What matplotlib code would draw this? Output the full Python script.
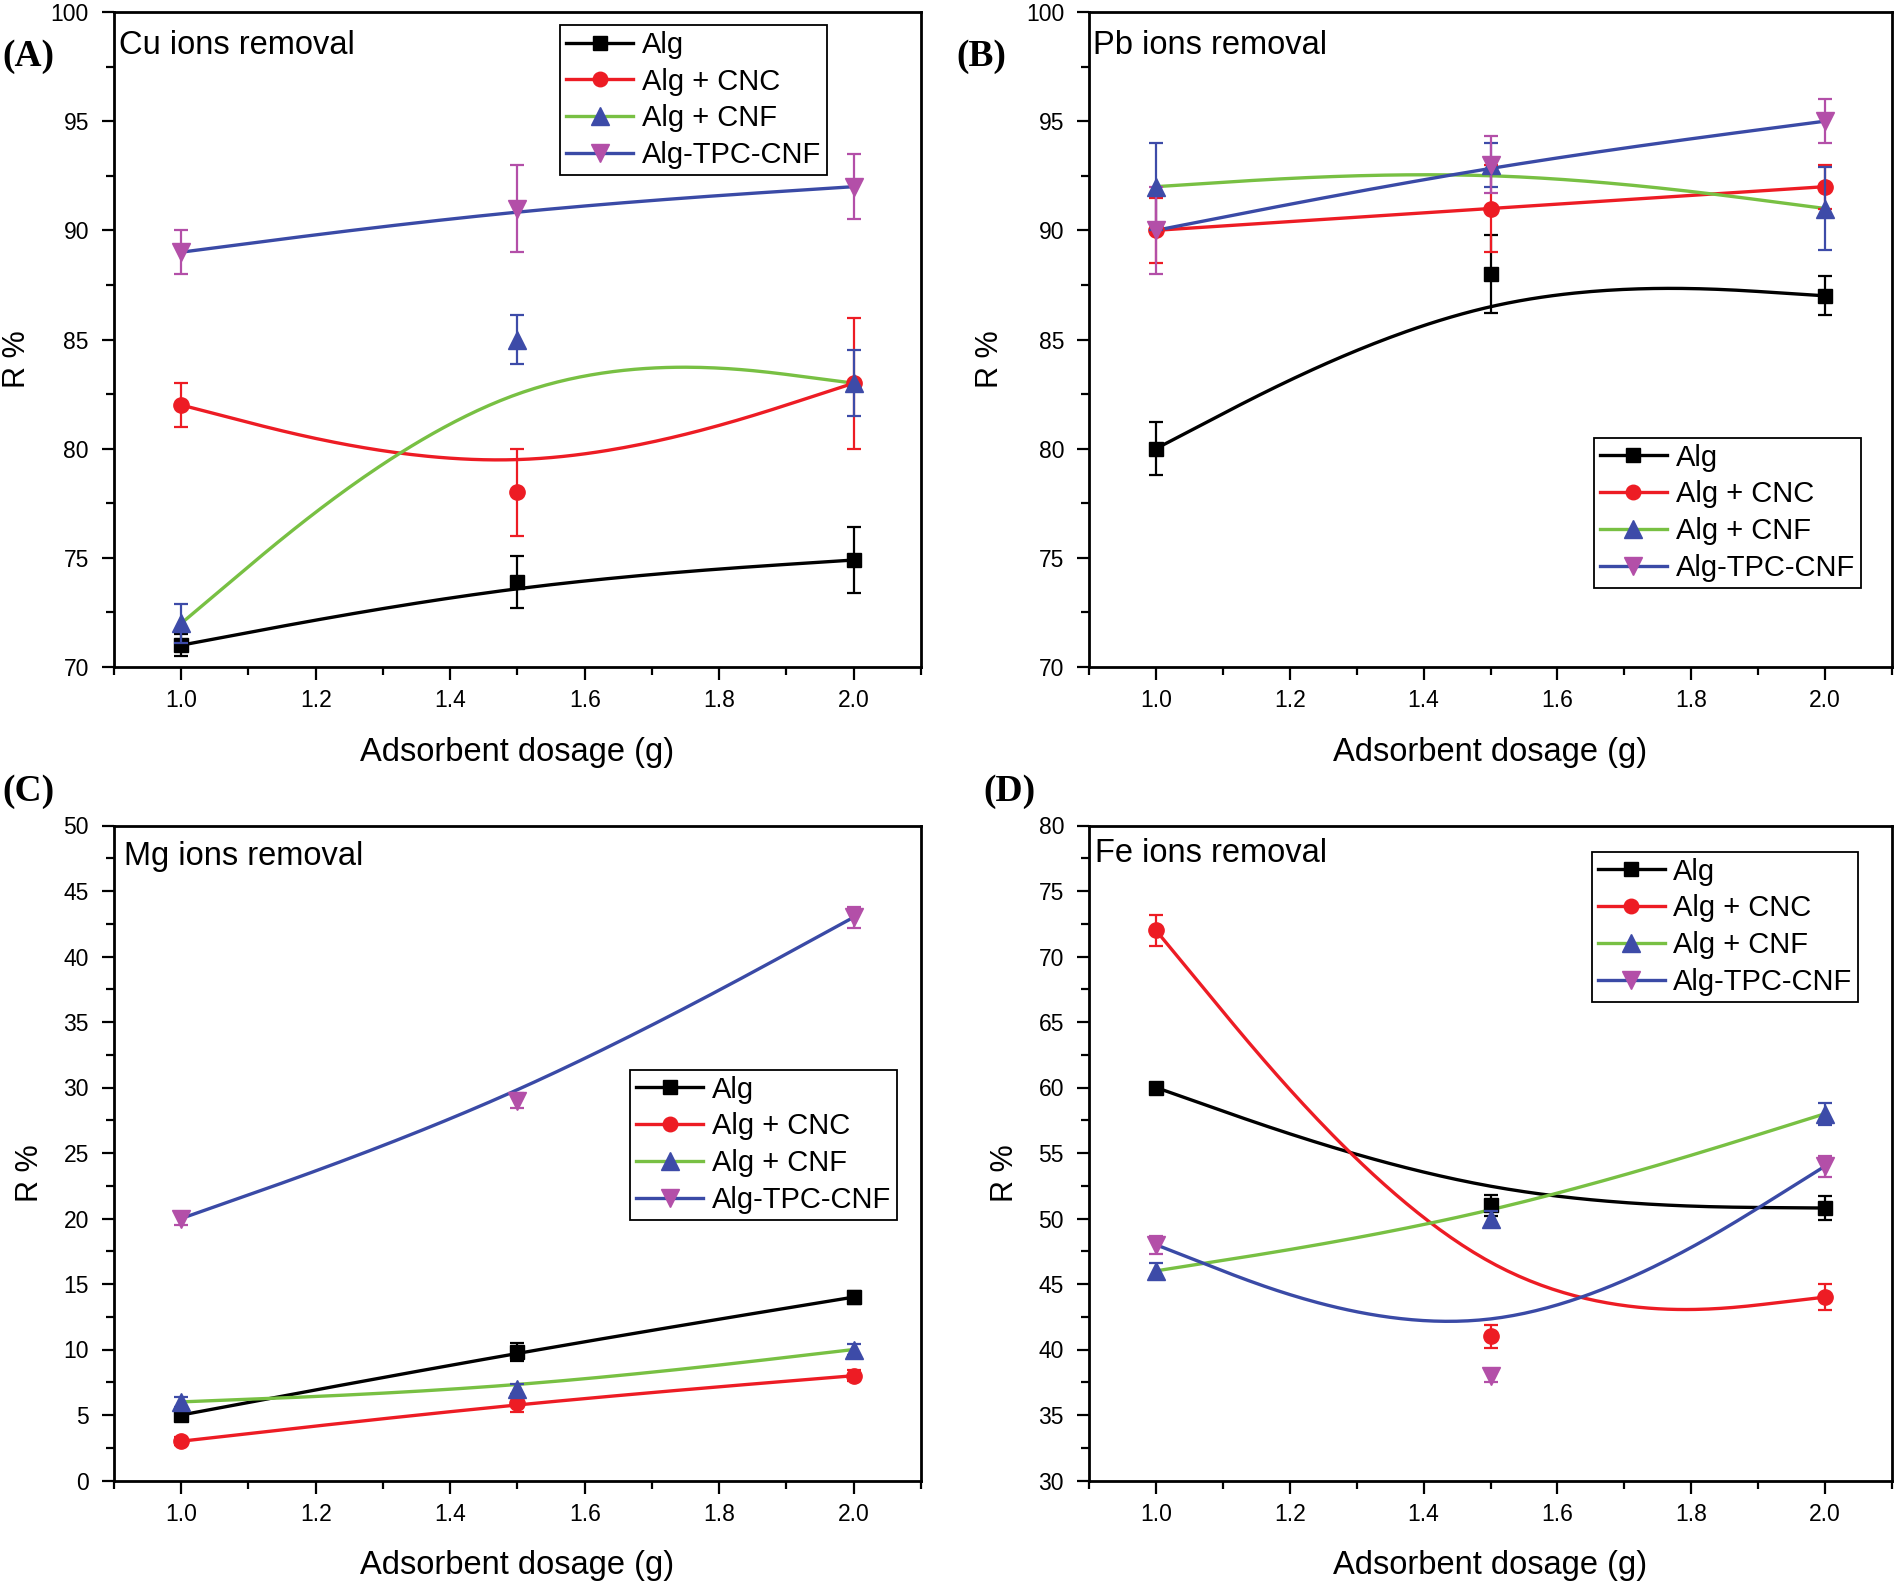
import numpy as np
import matplotlib
matplotlib.use("Agg")
import matplotlib.pyplot as plt
from matplotlib.ticker import MultipleLocator, FormatStrFormatter
from matplotlib.lines import Line2D

plt.rcParams['font.family'] = ['Liberation Sans', 'DejaVu Sans']

# ---------------- data ----------------
x_dose = [1.0, 1.5, 2.0]
series_names = ['Alg', 'Alg + CNC', 'Alg + CNF', 'Alg-TPC-CNF']

cu_alg = [71.0, 73.9, 74.9]
cu_alg_err = [0.5, 1.2, 1.5]
cu_cnc = [82.0, 78.0, 83.0]
cu_cnc_err = [1.0, 2.0, 3.0]
cu_cnf = [72.0, 85.0, 83.0]
cu_cnf_err = [0.9, 1.1, 1.5]
cu_tpc = [89.0, 91.0, 92.0]
cu_tpc_err = [1.0, 2.0, 1.5]

pb_alg = [80.0, 88.0, 87.0]
pb_alg_err = [1.2, 1.8, 0.9]
pb_cnc = [90.0, 91.0, 92.0]
pb_cnc_err = [1.5, 2.0, 1.0]
pb_cnf = [92.0, 93.0, 91.0]
pb_cnf_err = [2.0, 1.0, 1.9]
pb_tpc = [90.0, 93.0, 95.0]
pb_tpc_err = [2.0, 1.3, 1.0]

mg_alg = [5.0, 9.8, 14.0]
mg_alg_err = [0.3, 0.7, 0.5]
mg_cnc = [3.0, 5.9, 8.0]
mg_cnc_err = [0.3, 0.7, 0.4]
mg_cnf = [6.0, 7.0, 10.0]
mg_cnf_err = [0.4, 0.4, 0.4]
mg_tpc = [20.0, 29.0, 43.0]
mg_tpc_err = [0.5, 0.6, 0.8]

fe_alg = [60.0, 51.0, 50.8]
fe_alg_err = [0.3, 0.8, 0.9]
fe_cnc = [72.0, 41.0, 44.0]
fe_cnc_err = [1.2, 0.9, 1.0]
fe_cnf = [46.0, 50.0, 58.0]
fe_cnf_err = [0.6, 0.6, 0.85]
fe_tpc = [48.0, 38.0, 54.0]
fe_tpc_err = [0.7, 0.5, 0.8]

panel_titles = ['Cu ions removal', 'Pb ions removal', 'Mg ions removal', 'Fe ions removal']
panel_letters = ['(A)', '(B)', '(C)', '(D)']
x_label = 'Adsorbent dosage (g)'
y_label = 'R %'

# ---------------- style ----------------
line_colors = ['#000000', '#ed1c24', '#78c043', '#3a4aa6']
marker_colors = ['#000000', '#ed1c24', '#3d4ba8', '#b34fa8']
markers = ['s', 'o', '^', 'v']
msizes = [10, 11, 13.5, 13.5]


def bspline(xs, ys, n=60):
    """Uniform cubic B-spline with tripled end control points."""
    cx = [xs[0]] * 2 + list(xs) + [xs[-1]] * 2
    cy = [ys[0]] * 2 + list(ys) + [ys[-1]] * 2
    t = np.linspace(0, 1, n)
    b0 = (1 - t) ** 3 / 6
    b1 = (3 * t ** 3 - 6 * t ** 2 + 4) / 6
    b2 = (-3 * t ** 3 + 3 * t ** 2 + 3 * t + 1) / 6
    b3 = t ** 3 / 6
    ox, oy = [], []
    for i in range(len(cx) - 3):
        ox.append(b0 * cx[i] + b1 * cx[i + 1] + b2 * cx[i + 2] + b3 * cx[i + 3])
        oy.append(b0 * cy[i] + b1 * cy[i + 1] + b2 * cy[i + 2] + b3 * cy[i + 3])
    return np.concatenate(ox), np.concatenate(oy)


fig = plt.figure(figsize=(18.98, 15.83), dpi=100)

W, H = 1898.0, 1583.0
rects = [
    [114 / W, 1 - 667 / H, 807 / W, 655 / H],
    [1089 / W, 1 - 667 / H, 803 / W, 655 / H],
    [114 / W, 1 - 1480.5 / H, 807 / W, 655 / H],
    [1089 / W, 1 - 1480.5 / H, 803 / W, 655 / H],
]
ylims = [(70, 100), (70, 100), (0, 50), (30, 80)]
panel_data = [
    [(cu_alg, cu_alg_err), (cu_cnc, cu_cnc_err), (cu_cnf, cu_cnf_err), (cu_tpc, cu_tpc_err)],
    [(pb_alg, pb_alg_err), (pb_cnc, pb_cnc_err), (pb_cnf, pb_cnf_err), (pb_tpc, pb_tpc_err)],
    [(mg_alg, mg_alg_err), (mg_cnc, mg_cnc_err), (mg_cnf, mg_cnf_err), (mg_tpc, mg_tpc_err)],
    [(fe_alg, fe_alg_err), (fe_cnc, fe_cnc_err), (fe_cnf, fe_cnf_err), (fe_tpc, fe_tpc_err)],
]
legend_anchor = [(0.553, 0.980), (0.629, 0.350), (0.640, 0.627), (0.626, 0.960)]
title_pos = [(0.006, 0.949), (0.005, 0.949), (0.013, 0.952), (0.007, 0.957)]
ylabel_x = [-0.120, -0.123, -0.104, -0.105]
letter_pos = [(0.001, 0.9646), (0.5037, 0.9646), (0.001, 0.5000), (0.518, 0.5000)]

for k in range(4):
    ax = fig.add_axes(rects[k])
    for j in range(4):
        vals, errs = panel_data[k][j]
        cxs, cys = bspline(x_dose, vals)
        ax.plot(cxs, cys, color=line_colors[j], lw=2.4, zorder=2 + j * 0.1, solid_capstyle='butt')
        ax.errorbar(x_dose, vals, yerr=errs, fmt=markers[j], ms=msizes[j],
                    color=marker_colors[j], mfc=marker_colors[j], mec=marker_colors[j],
                    ecolor=marker_colors[j], elinewidth=1.6, capsize=5, capthick=1.6,
                    zorder=3 + j * 0.1)
    ax.set_xlim(0.9, 2.1)
    ax.set_ylim(*ylims[k])
    ax.xaxis.set_major_locator(MultipleLocator(0.2))
    ax.xaxis.set_minor_locator(MultipleLocator(0.1))
    ax.xaxis.set_major_formatter(FormatStrFormatter('%.1f'))
    ax.yaxis.set_major_locator(MultipleLocator(5))
    ax.yaxis.set_minor_locator(MultipleLocator(2.5))
    ax.tick_params(axis='both', which='major', direction='out', length=9, width=1.6,
                   labelsize=16.5, top=False, right=False)
    ax.tick_params(axis='x', which='major', pad=7)
    ax.tick_params(axis='y', which='major', pad=9)
    ax.tick_params(axis='both', which='minor', direction='out', length=5.5, width=1.6,
                   top=False, right=False)
    for s in ax.spines.values():
        s.set_linewidth(2.0)

    ax.set_xlabel(x_label, fontsize=23.5)
    ax.xaxis.set_label_coords(0.5, -0.130)
    ax.xaxis.label.set_va('center')
    ax.set_ylabel(y_label, fontsize=22)
    ax.yaxis.set_label_coords(ylabel_x[k], 0.47)
    ax.yaxis.label.set_va('center')

    ax.text(title_pos[k][0], title_pos[k][1], panel_titles[k], transform=ax.transAxes,
            fontsize=23.5, ha='left', va='center')

    handles = [Line2D([0], [0], color=line_colors[j], lw=2.4, marker=markers[j],
                      ms=msizes[j] * 0.95, mfc=marker_colors[j], mec=marker_colors[j])
               for j in range(4)]
    leg = ax.legend(handles, series_names, loc='upper left', bbox_to_anchor=legend_anchor[k],
                    borderaxespad=0, borderpad=0.2, labelspacing=0.30, handlelength=2.3,
                    handletextpad=0.3, fontsize=21, frameon=True, fancybox=False,
                    edgecolor='black', framealpha=1, numpoints=1)
    leg.get_frame().set_linewidth(1.3)
    leg.set_zorder(10)

    fig.text(letter_pos[k][0], letter_pos[k][1], panel_letters[k], fontsize=27,
             fontweight='bold', family=['Liberation Serif', 'DejaVu Serif'],
             ha='left', va='center')

fig.savefig('out.png', dpi=100)
